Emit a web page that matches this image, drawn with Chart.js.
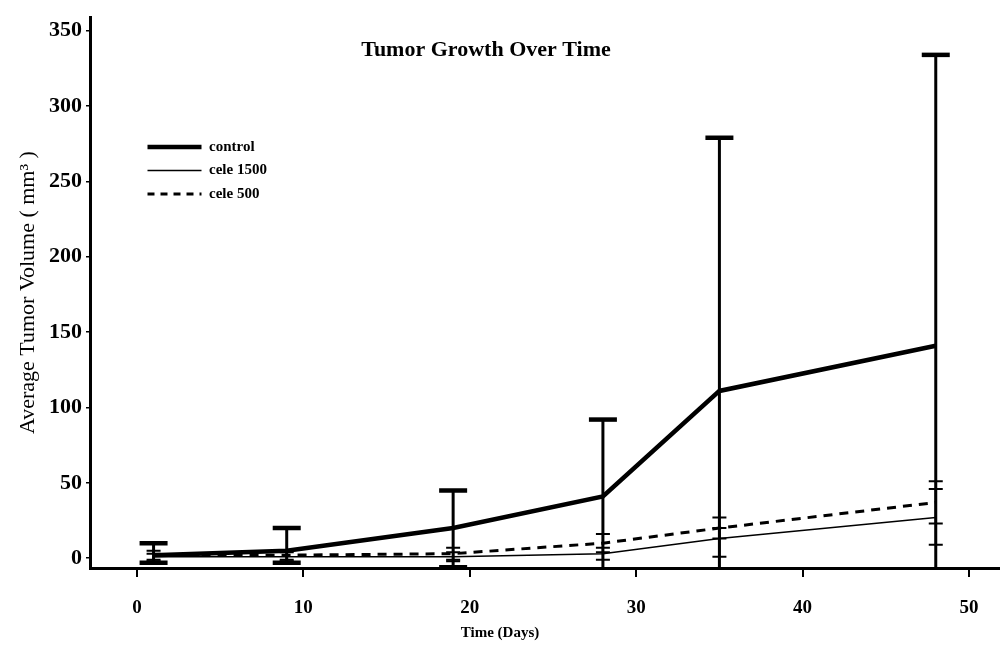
<html>

<head>
    <script src="https://cdn.jsdelivr.net/npm/chart.js"></script>
    <style>
        html, body {
            margin: 0;
            padding: 0;
            background: #fff;
        }

        #chart-container {
            width: 1000px;
            height: 648px;
        }
    </style>
</head>

<body>
    <div id="chart-container">
        <canvas id="tumor-chart"></canvas>
    </div>

    <script>
        // values
        const days = [1, 9, 19, 28, 35, 48];

        const control = [2, 5, 20, 41, 111, 141];
        const controlHigh = [10, 20, 45, 92, 279, 334];
        const controlLow = [-3, -3, -6, -7, -7, -7];

        const cele1500 = [1, 1, 1, 3, 13, 27];
        const cele1500High = [3, 4, 4, 7, 20, 46];
        const cele1500Low = [-2, -2, -2, -1, 1, 9];

        const cele500 = [2, 2, 3, 10, 20, 37];
        const cele500High = [5, 5, 7, 16, 27, 51];
        const cele500Low = [-1, -1, -1, 4, 13, 23];

        const xTicks = [0, 10, 20, 30, 40, 50];
        const yTicks = [0, 50, 100, 150, 200, 250, 300, 350];

        const plotTitle = 'Tumor Growth Over Time';
        const xTitle = 'Time (Days)';
        const yTitle = 'Average Tumor Volume ( mm\u00B3 )';

        const serif = '"Liberation Serif", "DejaVu Serif", serif';

        function toPoints(values) {
            return days.map((d, i) => ({ x: d, y: values[i] }));
        }

        // draws the vertical error bars with caps
        const errorBars = {
            id: 'errorBars',
            afterDatasetsDraw(chart) {
                const ctx = chart.ctx;
                const xs = chart.scales.x;
                const ys = chart.scales.y;
                ctx.save();
                ctx.strokeStyle = '#000';
                chart.data.datasets.forEach(ds => {
                    const e = ds.errorBars;
                    days.forEach((d, i) => {
                        const x = xs.getPixelForValue(d);
                        const hi = ys.getPixelForValue(e.high[i]);
                        const loVal = Math.max(e.low[i], ys.min);
                        const lo = ys.getPixelForValue(loVal);
                        ctx.lineWidth = e.stem;
                        ctx.beginPath();
                        ctx.moveTo(x, hi);
                        ctx.lineTo(x, lo);
                        ctx.stroke();
                        ctx.lineWidth = e.capWidth;
                        ctx.beginPath();
                        ctx.moveTo(x - e.cap / 2, hi);
                        ctx.lineTo(x + e.cap / 2, hi);
                        if (e.low[i] > ys.min) {
                            ctx.moveTo(x - e.cap / 2, lo);
                            ctx.lineTo(x + e.cap / 2, lo);
                        }
                        ctx.stroke();
                    });
                });
                ctx.restore();
            }
        };

        // title that sits inside the plot area
        const innerTitle = {
            id: 'innerTitle',
            afterDraw(chart) {
                const ctx = chart.ctx;
                ctx.save();
                ctx.fillStyle = '#000';
                ctx.font = 'bold 22px ' + serif;
                ctx.textAlign = 'center';
                ctx.textBaseline = 'middle';
                ctx.fillText(plotTitle, 486, 50);
                ctx.restore();
            }
        };

        // move the legend to where it is in the picture
        const legendSpot = {
            id: 'legendSpot',
            afterLayout(chart) {
                if (chart.legend) {
                    chart.legend.left = 139;
                    chart.legend.top = 131;
                }
            }
        };

        const ctx = document.getElementById('tumor-chart').getContext('2d');
        const chart = new Chart(ctx, {
            type: 'line',
            data: {
                datasets: [{
                    label: 'control',
                    data: toPoints(control),
                    borderColor: '#000',
                    borderWidth: 4.5,
                    pointRadius: 0,
                    tension: 0,
                    errorBars: { high: controlHigh, low: controlLow, stem: 3, cap: 28, capWidth: 4.5 }
                }, {
                    label: 'cele 1500',
                    data: toPoints(cele1500),
                    borderColor: '#000',
                    borderWidth: 1.5,
                    pointRadius: 0,
                    tension: 0,
                    errorBars: { high: cele1500High, low: cele1500Low, stem: 2, cap: 14, capWidth: 2 }
                }, {
                    label: 'cele 500',
                    data: toPoints(cele500),
                    borderColor: '#000',
                    borderWidth: 3,
                    borderDash: [9, 7],
                    pointRadius: 0,
                    tension: 0,
                    errorBars: { high: cele500High, low: cele500Low, stem: 2, cap: 14, capWidth: 2 }
                }]
            },
            options: {
                responsive: true,
                maintainAspectRatio: false,
                animation: false,
                layout: {
                    padding: { left: 0, top: 8, right: 0, bottom: 0 }
                },
                plugins: {
                    legend: {
                        position: 'chartArea',
                        align: 'start',
                        labels: {
                            usePointStyle: true,
                            pointStyle: 'line',
                            pointStyleWidth: 54,
                            boxWidth: 54,
                            padding: 8.5,
                            color: '#000',
                            font: { family: serif, size: 15, weight: 'bold' },
                            generateLabels: chart => {
                                const items = Chart.defaults.plugins.legend.labels.generateLabels(chart);
                                items.forEach((item, i) => {
                                    const ds = chart.data.datasets[i];
                                    item.lineDash = ds.borderDash ? [7, 6] : [];
                                    item.lineWidth = ds.borderWidth;
                                });
                                return items;
                            }
                        }
                    },
                    title: {
                        display: true,
                        position: 'bottom',
                        text: xTitle,
                        color: '#000',
                        font: { family: serif, size: 15, weight: 'bold' },
                        padding: { top: 0, bottom: 6 }
                    },
                    tooltip: { enabled: false }
                },
                scales: {
                    x: {
                        type: 'linear',
                        min: -2.82,
                        max: 51.86,
                        afterBuildTicks: s => { s.ticks = xTicks.map(v => ({ value: v })); },
                        afterFit: s => { s.height = 56; },
                        grid: {
                            display: true,
                            drawOnChartArea: false,
                            drawTicks: true,
                            tickLength: 9,
                            color: '#000',
                            lineWidth: 2
                        },
                        border: { display: true, color: '#000', width: 3 },
                        ticks: {
                            color: '#000',
                            padding: 20,
                            maxRotation: 0,
                            font: { family: serif, size: 19, weight: 'bold' }
                        }
                    },
                    y: {
                        type: 'linear',
                        min: -6.5,
                        max: 359,
                        afterBuildTicks: s => { s.ticks = yTicks.map(v => ({ value: v })); },
                        afterFit: s => { s.width = 90; },
                        grid: {
                            display: true,
                            drawOnChartArea: false,
                            drawTicks: true,
                            tickLength: 4,
                            color: '#000',
                            lineWidth: 1.5
                        },
                        border: { display: true, color: '#000', width: 3 },
                        ticks: {
                            color: '#000',
                            padding: 4,
                            font: { family: serif, size: 22, weight: 'bold' }
                        },
                        title: {
                            display: true,
                            text: yTitle,
                            color: '#000',
                            padding: { top: 15, bottom: 0 },
                            font: { family: serif, size: 22 }
                        }
                    }
                }
            },
            plugins: [errorBars, innerTitle, legendSpot]
        });
    </script>
</body>

</html>
